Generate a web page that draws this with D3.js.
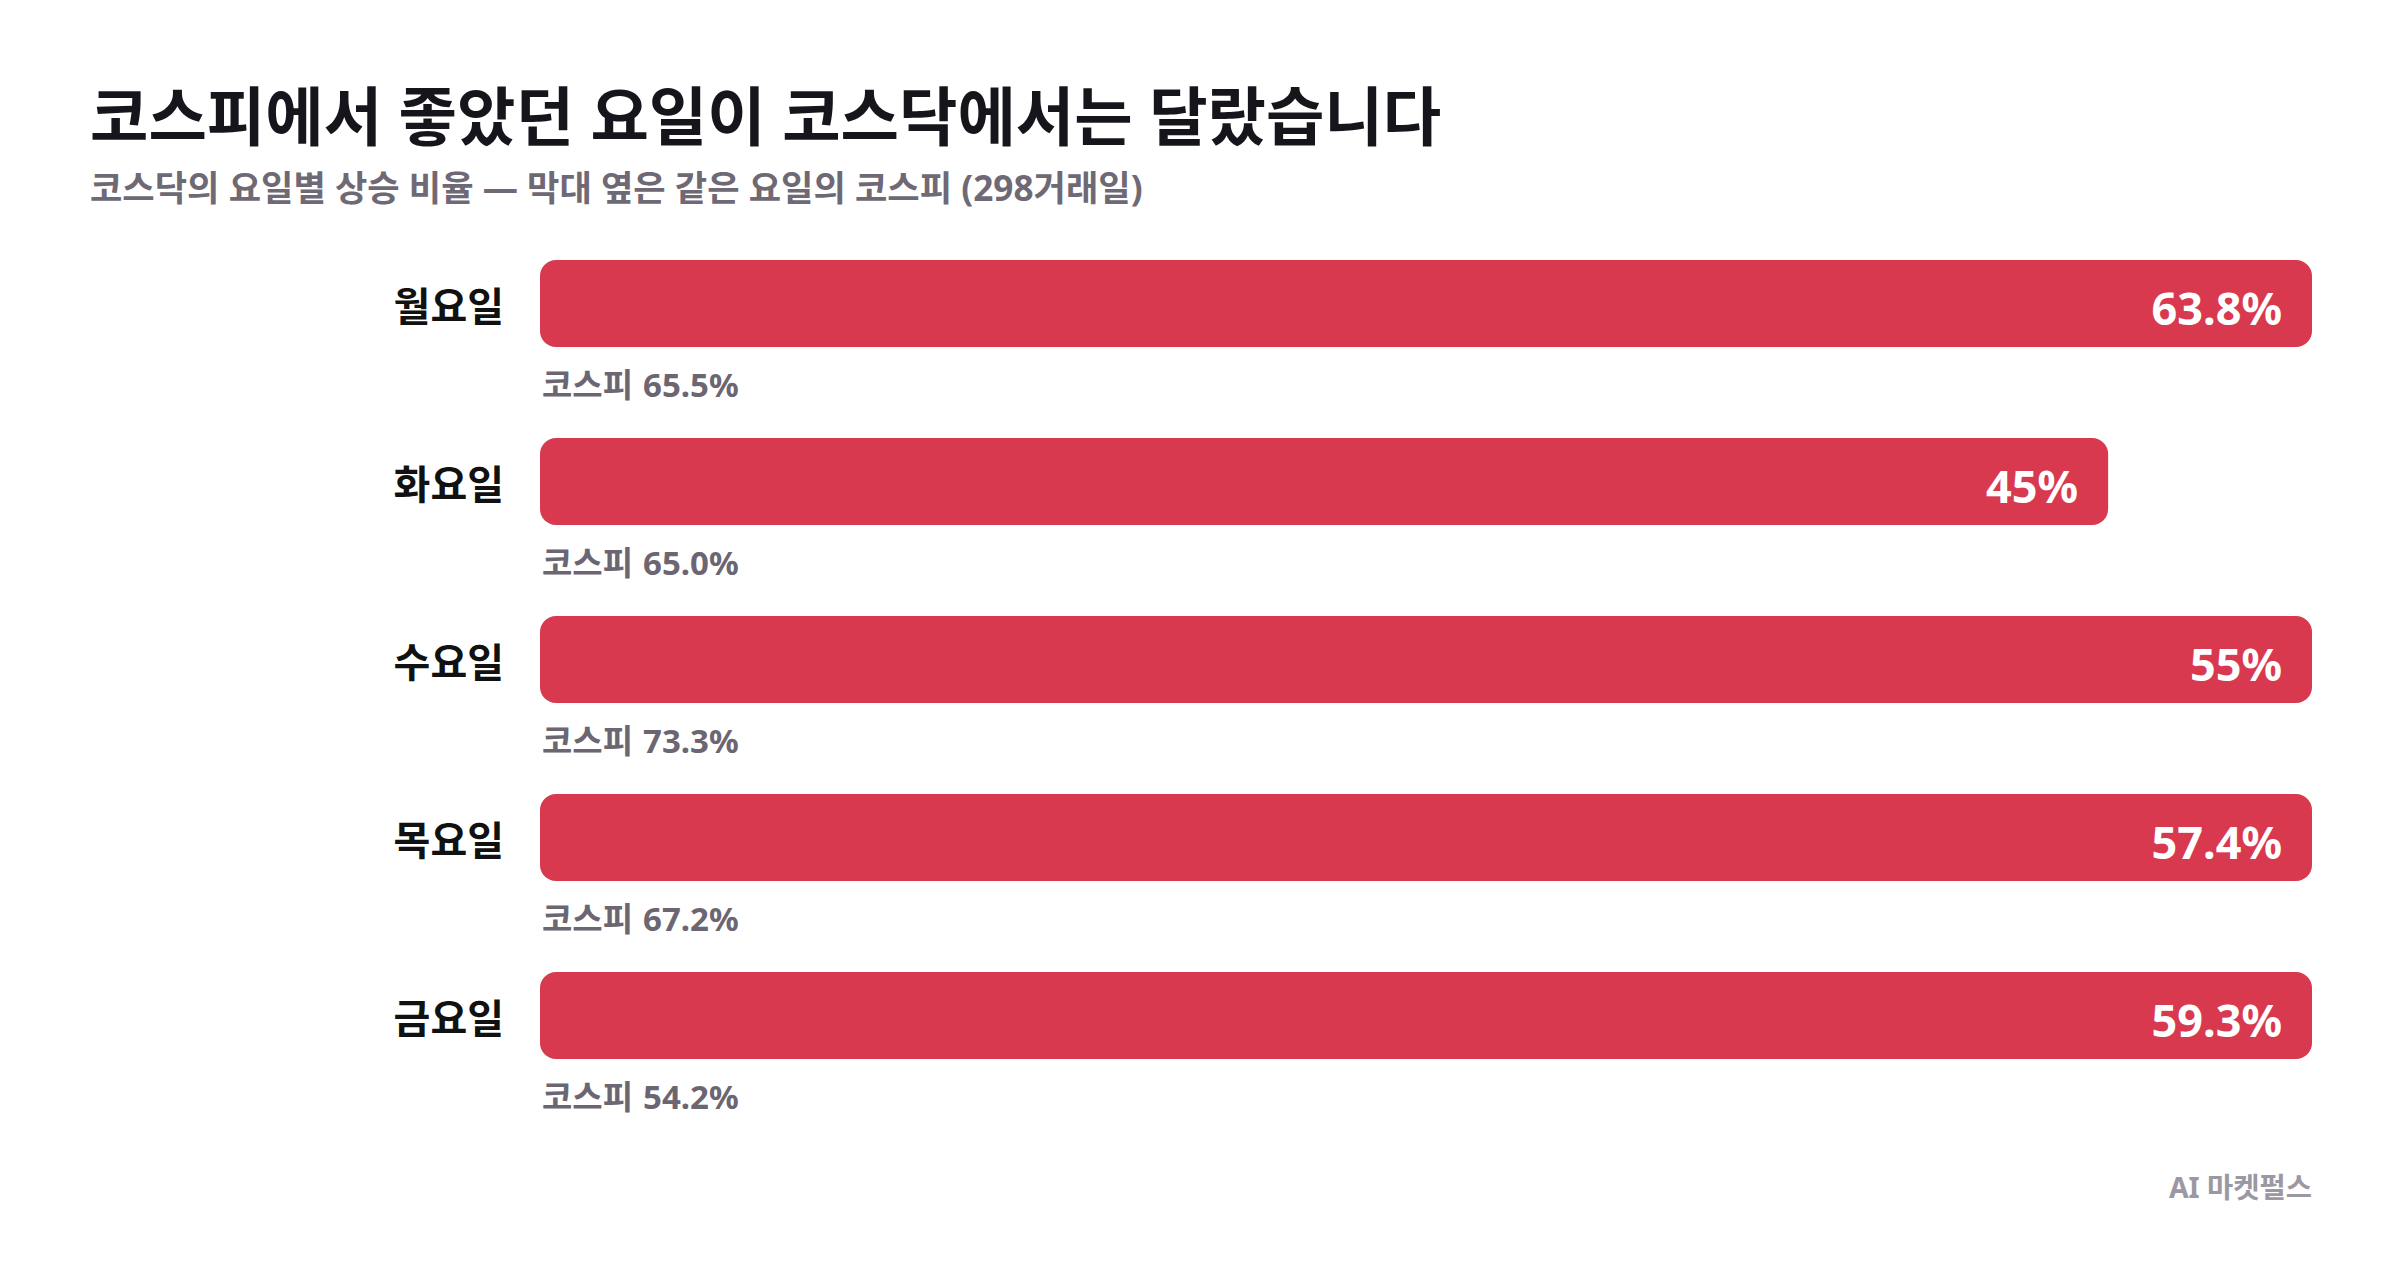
<!DOCTYPE html>
<html><head><meta charset="utf-8">
<script src="https://cdn.jsdelivr.net/npm/d3@7"></script>
<style>
html,body{margin:0;padding:0;background:#fff;}
svg{display:block;}
text{font-family:"Noto Sans","Noto Sans CJK KR",sans-serif;}
</style></head>
<body>
<svg id="chart" width="2400" height="1286"></svg>
<script>
const days = ["월요일","화요일","수요일","목요일","금요일"];
const kosdaqUp = [63.8, 45, 55, 57.4, 59.3];
const kosdaqLabels = ["63.8%","45%","55%","57.4%","59.3%"];
const kospiUp = [65.5, 65.0, 73.3, 67.2, 54.2];
const titleText = "코스피에서 좋았던 요일이 코스닥에서는 달랐습니다";
const subtitleText = "코스닥의 요일별 상승 비율 — 막대 옆은 같은 요일의 코스피 (298거래일)";
const sourceText = "AI 마켓펄스";

const svg = d3.select("#chart");
const left = 540, right = 2312;

const x = d3.scaleLinear().domain([0, 50.85]).range([left, right]).clamp(true);
const y = d3.scaleBand().domain(days).range([260, 1059]).paddingInner(0.511).paddingOuter(0);

svg.append("text").attr("x", 90).attr("y", 140)
  .attr("font-size", 63.5).attr("font-weight", 700).attr("fill", "#17151c")
  .text(titleText);
svg.append("text").attr("x", 90).attr("y", 201)
  .attr("font-size", 35.2).attr("font-weight", 700).attr("fill", "#6e6975")
  .text(subtitleText);

const g = svg.append("g").selectAll("g").data(days).join("g");

g.append("rect")
  .attr("x", left)
  .attr("y", d => y(d))
  .attr("width", (d,i) => x(kosdaqUp[i]) - left)
  .attr("height", y.bandwidth())
  .attr("rx", 16).attr("ry", 16)
  .attr("fill", "#d9394e");

g.append("text")
  .attr("x", left - 36)
  .attr("y", d => y(d) + y.bandwidth()/2 + 2)
  .attr("text-anchor", "end").attr("dominant-baseline", "central")
  .attr("font-size", 40).attr("font-weight", 700).attr("fill", "#111")
  .text(d => d);

g.append("text")
  .attr("x", (d,i) => x(kosdaqUp[i]) - 30)
  .attr("y", d => y(d) + y.bandwidth()/2 + 4)
  .attr("text-anchor", "end").attr("dominant-baseline", "central")
  .attr("font-size", 45).attr("font-weight", 700).attr("fill", "#fff")
  .text((d,i) => kosdaqLabels[i]);

const note = g.append("text")
  .attr("x", left + 2)
  .attr("y", d => y(d) + y.bandwidth() + 50)
  .attr("font-size", 33).attr("font-weight", 700).attr("fill", "#6b6672");
note.append("tspan").text("코스피");
note.append("tspan").attr("dx", 10).text((d,i) => kospiUp[i].toFixed(1) + "%");

svg.append("text").attr("x", right).attr("y", 1198)
  .attr("text-anchor", "end")
  .attr("font-size", 28.5).attr("font-weight", 700).attr("fill", "#9b98a3")
  .text(sourceText);
</script>
</body></html>
